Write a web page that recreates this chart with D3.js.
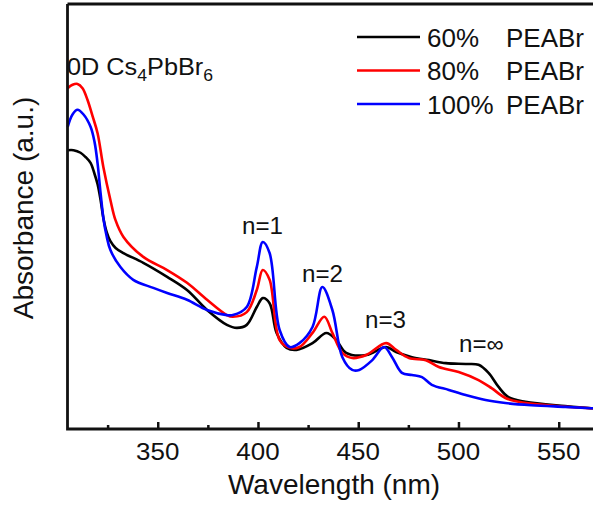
<!DOCTYPE html>
<html lang="en">
<head>
<meta charset="utf-8"/>
<title>Absorbance</title>
<style>
  body { margin: 0; background: #fff; }
  svg { display: block; font-family: "Liberation Sans", Arial, sans-serif; }
</style>
</head>
<body>
<svg id="chart" width="593" height="506"></svg>
<script src="https://cdn.jsdelivr.net/npm/d3@7/dist/d3.min.js"></script>
<script>

  // spectra: [wavelength (nm), absorbance (a.u.)]
  const pea60 = [
    [305.1, 65.6], [308, 65.6], [311.5, 65.0], [314, 64.0], [316.5, 62.6], [318.5, 60.0],
    [320, 57.6], [321.5, 53.9], [322.9, 49.6], [324.5, 46.4], [326.4, 44.2], [329, 42.6],
    [332.9, 41.4], [342.8, 39.1], [354.7, 35.8],
    [364.6, 32.7], [374.6, 28.0], [384.5, 24.5], [389.5, 23.8], [394.4, 24.5],
    [399.4, 28.7], [402.4, 30.8], [405.8, 29.6], [409.3, 22.6], [414.3, 19.1],
    [419.2, 18.6], [427.2, 20.2], [434.1, 22.6], [439.1, 20.9], [444.0, 17.9],
    [454.0, 17.4], [463.9, 19.3], [468.9, 18.1], [476.8, 16.9], [485.2, 16.2],
    [493.7, 15.5], [503.6, 15.3], [510.0, 15.1], [515.0, 13.2], [520.0, 9.9],
    [524.9, 7.5], [533.4, 6.4], [553.2, 5.4], [566.1, 4.9], [575, 4.7]
  ];
  const pea80 = [
    [305.1, 80.2], [307.5, 81.0], [310.0, 81.2], [312.5, 80.2], [315, 77.4],
    [317.5, 73.6], [320.0, 69.6], [322.9, 61.6], [326.4, 53.9], [328.9, 49.2], [332.9, 45.2],
    [342.8, 40.5], [354.7, 37.4], [364.6, 34.4], [374.6, 30.4], [384.5, 26.8],
    [387.5, 26.4], [394.4, 27.5], [399.4, 32.7], [402.4, 37.4], [405.8, 35.1],
    [410.8, 20.9], [415.8, 19.1], [420.7, 19.3], [427.2, 22.6], [433.1, 26.4],
    [437.1, 22.6], [442.1, 17.9], [447.0, 16.7], [454.0, 17.4], [463.9, 20.2],
    [468.9, 18.6], [475.3, 16.7], [483.7, 16.2], [490.2, 14.6], [500.1, 13.4],
    [510.0, 11.5], [516.5, 9.6], [523.4, 7.3], [529.9, 6.4], [544.8, 5.6],
    [566.1, 4.9], [575, 4.7]
  ];
  const pea100 = [
    [305.1, 71.1], [307.5, 74.0], [310.0, 75.1], [313, 74.0], [316.5, 71.1],
    [318.5, 67.5], [320.0, 62.5], [321.5, 55.5], [322.9, 49.6], [324.5, 45.4],
    [326.4, 42.1], [331.4, 38.1],
    [337.8, 35.1], [347.8, 33.2], [354.7, 32.0], [364.6, 30.4], [374.6, 28.0],
    [384.5, 26.8], [387.5, 26.8], [394.4, 28.7], [399.4, 38.1], [402.4, 44.0],
    [405.8, 41.4], [410.8, 23.3], [415.8, 19.3], [420.7, 20.2], [427.2, 24.0],
    [432.1, 33.4], [437.1, 28.0], [442.1, 16.9], [447.0, 13.9], [450.5, 13.9],
    [457.0, 16.2], [462.9, 19.3], [466.9, 16.9], [471.8, 13.2], [476.8, 12.7],
    [481.8, 12.2], [486.7, 10.4], [495.2, 9.2], [503.6, 8.0], [513.5, 6.8],
    [523.4, 6.1], [536.3, 5.6], [553.2, 5.2], [566.1, 4.9], [575, 4.7]
  ];

  const seriesNames = ['60%', '80%', '100%'];
  const seriesColors = ['#000000', '#ff0000', '#0000ff'];
  const seriesData = [pea60, pea80, pea100];

  const majorTicks = [350, 400, 450, 500, 550];
  const minorTicks = [325, 375, 425, 475, 525, 575];

  const peakLabels = [
    {text: 'n=1', x: 242, y: 234},
    {text: 'n=2', x: 302, y: 282},
    {text: 'n=3', x: 365, y: 328},
    {text: 'n=\u221e', x: 459, y: 352}
  ];

  const svg = d3.select('#chart');
  const plotLeft = 67.5, plotTop = 4, plotBottom = 429;

  const x = d3.scaleLinear().domain([305, 575]).range([plotLeft, plotLeft + 270 * 2.005]);
  const y = d3.scaleLinear().domain([0, 100]).range([plotBottom, plotTop]);

  // small helper: text stretched horizontally
  function label(g, txt, px, py, size, sx, anchor) {
    return g.append('text')
      .attr('transform', `translate(${px},${py}) scale(${sx},1)`)
      .attr('text-anchor', anchor || 'start')
      .style('font-size', size + 'px')
      .attr('fill', '#111')
      .text(txt);
  }

  // curves
  const line = d3.line()
    .x(d => x(d[0]))
    .y(d => y(d[1]))
    .curve(d3.curveCatmullRom.alpha(0.5));

  svg.append('g')
    .selectAll('path')
    .data(seriesData)
    .join('path')
    .attr('d', line)
    .attr('fill', 'none')
    .attr('stroke', (d, i) => seriesColors[i])
    .attr('stroke-width', 2.6)
    .attr('stroke-linejoin', 'round');

  // ticks, inward
  const gx = svg.append('g').attr('transform', `translate(0,${plotBottom})`);
  gx.call(d3.axisBottom(x).tickValues(majorTicks).tickSizeInner(-7).tickSizeOuter(0).tickFormat(''));
  gx.append('g').call(d3.axisBottom(x).tickValues(minorTicks).tickSizeInner(-4).tickSizeOuter(0).tickFormat(''));
  gx.selectAll('.domain').remove();
  gx.selectAll('line').attr('stroke', '#111').attr('stroke-width', 2.5);

  majorTicks.forEach(t => label(svg, String(t), x(t), 460, 24, 1.08, 'middle'));

  // frame
  svg.append('path')
    .attr('d', `M${plotLeft},${plotTop}H600M${plotLeft},${plotTop}V${plotBottom}H600`)
    .attr('fill', 'none')
    .attr('stroke', '#111')
    .attr('stroke-width', 2.8);

  // axis titles
  label(svg, 'Wavelength (nm)', 334, 494, 28, 1.0, 'middle');
  svg.append('text')
    .attr('transform', 'translate(33,208) rotate(-90)')
    .attr('text-anchor', 'middle')
    .style('font-size', '28px')
    .attr('fill', '#111')
    .text('Absorbance (a.u.)');

  // 0D label
  const od = label(svg, '', 67, 75, 23, 1.1, 'start');
  od.append('tspan').text('0D Cs');
  od.append('tspan').attr('dy', 6).style('font-size', '16px').text('4');
  od.append('tspan').attr('dy', -6).text('PbBr');
  od.append('tspan').attr('dy', 6).style('font-size', '16px').text('6');

  peakLabels.forEach(p => label(svg, p.text, p.x, p.y, 23, 1.05, 'start'));

  // legend
  const legend = svg.append('g');
  seriesNames.forEach((name, i) => {
    const ly = 37 + i * 33.5;
    legend.append('line')
      .attr('x1', 357).attr('x2', 420)
      .attr('y1', ly).attr('y2', ly)
      .attr('stroke', seriesColors[i])
      .attr('stroke-width', 2.6);
    label(legend, name, 427, ly + 9.5, 26, 1.0, 'start');
    label(legend, 'PEABr', 506, ly + 9.5, 26, 1.0, 'start');
  });

</script>
</body>
</html>
